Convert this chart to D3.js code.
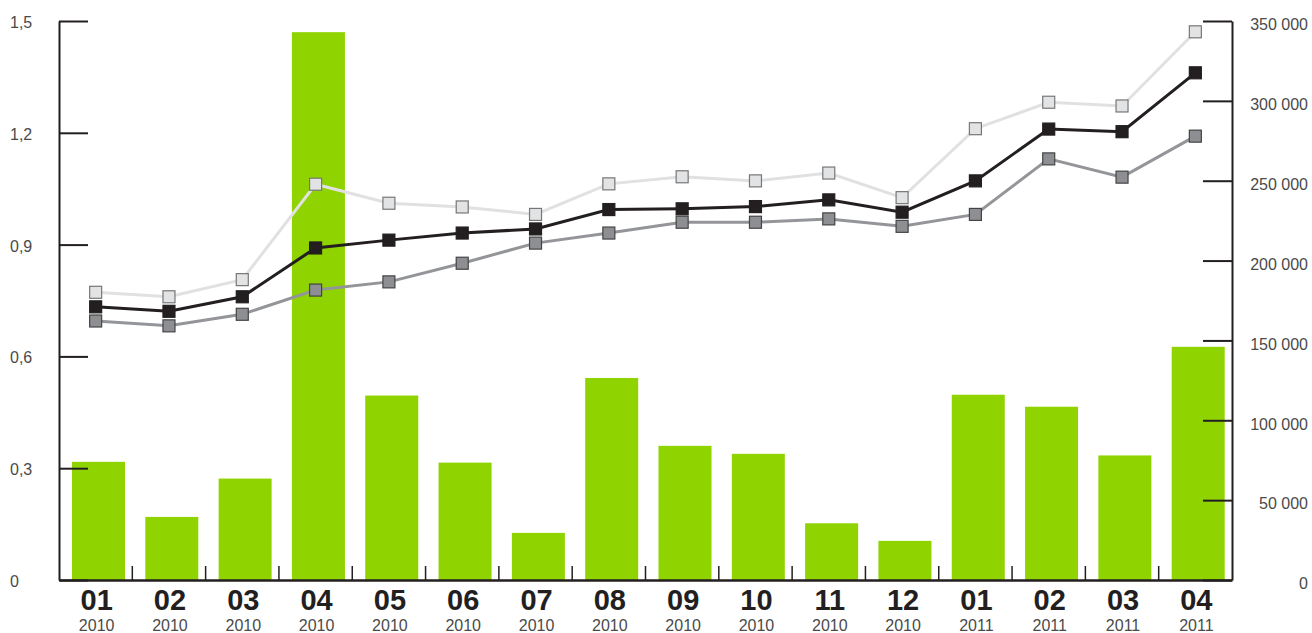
<!DOCTYPE html>
<html>
<head>
<meta charset="utf-8">
<script src="https://cdn.jsdelivr.net/npm/d3@7"></script>
<style>
  html, body { margin: 0; padding: 0; background: #ffffff; }
  svg { display: block; font-family: "Liberation Sans", Arial, Helvetica, sans-serif; }
</style>
</head>
<body>
<svg id="chart" width="1312" height="633"></svg>
<script>
// ---- data ----
const months = ["01","02","03","04","05","06","07","08","09","10","11","12","01","02","03","04"];
const years  = ["2010","2010","2010","2010","2010","2010","2010","2010","2010","2010","2010","2010","2011","2011","2011","2011"];
const barValues = [74000, 39500, 63500, 343000, 115500, 73500, 29500, 126500, 84000, 79000, 35500, 24500, 116000, 108500, 78000, 146000];
const lightSeries = [0.772, 0.760, 0.806, 1.062, 1.011, 1.001, 0.981, 1.063, 1.082, 1.071, 1.092, 1.026, 1.211, 1.282, 1.272, 1.471];
const blackSeries = [0.733, 0.721, 0.760, 0.891, 0.912, 0.931, 0.942, 0.994, 0.996, 1.002, 1.020, 0.987, 1.071, 1.210, 1.203, 1.361];
const graySeries  = [0.695, 0.682, 0.713, 0.778, 0.800, 0.850, 0.904, 0.931, 0.960, 0.960, 0.969, 0.949, 0.981, 1.130, 1.081, 1.191];
const leftTicks  = [0, 0.3, 0.6, 0.9, 1.2, 1.5];
const rightTicks = [0, 50000, 100000, 150000, 200000, 250000, 300000, 350000];

// ---- layout ----
const svg = d3.select("#chart");
const x0 = 59, x1 = 1232, yTop = 21, yBase = 580;
const axisColor = "#231f20";
const labelColor = "#4a4a4a";

const x = d3.scaleBand().domain(d3.range(months.length)).range([x0, x1]).padding(0);
const yL = d3.scaleLinear().domain([0, 1.5]).range([yBase, yTop]);
const yR = d3.scaleLinear().domain([0, 350000]).range([yBase, yTop]);

// bars
const barOffset = 13, barWidth = 53;
svg.append("g").selectAll("rect").data(barValues).join("rect")
  .attr("x", (d, i) => x(i) + barOffset)
  .attr("y", d => yR(d))
  .attr("width", barWidth)
  .attr("height", d => yBase - yR(d))
  .attr("fill", "#8fd400");

// left axis
const fmtL = d => d === 0 ? "0" : d3.format(".1f")(d).replace(".", ",");
const gL = svg.append("g").attr("transform", `translate(${x0},0)`)
  .call(d3.axisLeft(yL).tickValues(leftTicks).tickSizeInner(-29).tickSizeOuter(0).tickFormat(fmtL));
gL.select(".domain").attr("stroke", axisColor).attr("stroke-width", 2);
gL.selectAll(".tick line").attr("stroke", axisColor).attr("stroke-width", 2);
gL.selectAll(".tick text").attr("x", 10 - x0).attr("text-anchor", "start")
  .attr("fill", labelColor).style("font-size", "16px").attr("dy", "0.4em");

// right axis
const fmtR = d => d3.format(",")(d).replace(/,/g, " ");
const gR = svg.append("g").attr("transform", `translate(${x1},0)`)
  .call(d3.axisRight(yR).tickValues(rightTicks).tickSizeInner(-29).tickSizeOuter(0).tickFormat(fmtR));
gR.select(".domain").attr("stroke", axisColor).attr("stroke-width", 2);
gR.selectAll(".tick line").attr("stroke", axisColor).attr("stroke-width", 2);
gR.selectAll(".tick text").attr("x", 1308 - x1).attr("text-anchor", "end")
  .attr("fill", labelColor).style("font-size", "16px").attr("dy", "0.55em");

// bottom axis
const gB = svg.append("g").attr("transform", `translate(0,${yBase})`)
  .call(d3.axisBottom(x).tickSize(0).tickFormat(""));
gB.select(".domain").attr("stroke", axisColor).attr("stroke-width", 2.5);
// category boundary ticks
svg.append("g").selectAll("line").data(d3.range(1, months.length)).join("line")
  .attr("x1", i => x(i)).attr("x2", i => x(i))
  .attr("y1", yBase - 14).attr("y2", yBase)
  .attr("stroke", axisColor).attr("stroke-width", 1.5);

// category labels
const labels = svg.append("g");
labels.selectAll("text.m").data(months).join("text").attr("class", "m")
  .attr("x", (d, i) => x(i) + x.bandwidth() / 2 + 1)
  .attr("y", 610)
  .attr("text-anchor", "middle")
  .attr("fill", axisColor)
  .style("font-size", "29px").style("font-weight", "bold")
  .text(d => d);
labels.selectAll("text.y").data(years).join("text").attr("class", "y")
  .attr("x", (d, i) => x(i) + x.bandwidth() / 2 + 1)
  .attr("y", 631)
  .attr("text-anchor", "middle")
  .attr("fill", labelColor)
  .style("font-size", "16px")
  .text(d => d);

// lines
const series = [
  { values: lightSeries, line: "#e1e1e1", fill: "#e2e3e4", stroke: "#777777" },
  { values: graySeries,  line: "#939598", fill: "#8e8f92", stroke: "#444444" },
  { values: blackSeries, line: "#231f20", fill: "#231f20", stroke: "#231f20" }
];
const lineGen = d3.line().x((d, i) => x(i) + x.bandwidth() / 2).y(d => yL(d));
const ms = 12;
series.forEach(s => {
  const g = svg.append("g");
  g.append("path").datum(s.values).attr("d", lineGen)
    .attr("fill", "none").attr("stroke", s.line).attr("stroke-width", 3);
  g.selectAll("rect").data(s.values).join("rect")
    .attr("x", (d, i) => x(i) + x.bandwidth() / 2 - ms / 2)
    .attr("y", d => yL(d) - ms / 2)
    .attr("width", ms).attr("height", ms)
    .attr("fill", s.fill).attr("stroke", s.stroke).attr("stroke-width", 1.2);
});
</script>
</body>
</html>
